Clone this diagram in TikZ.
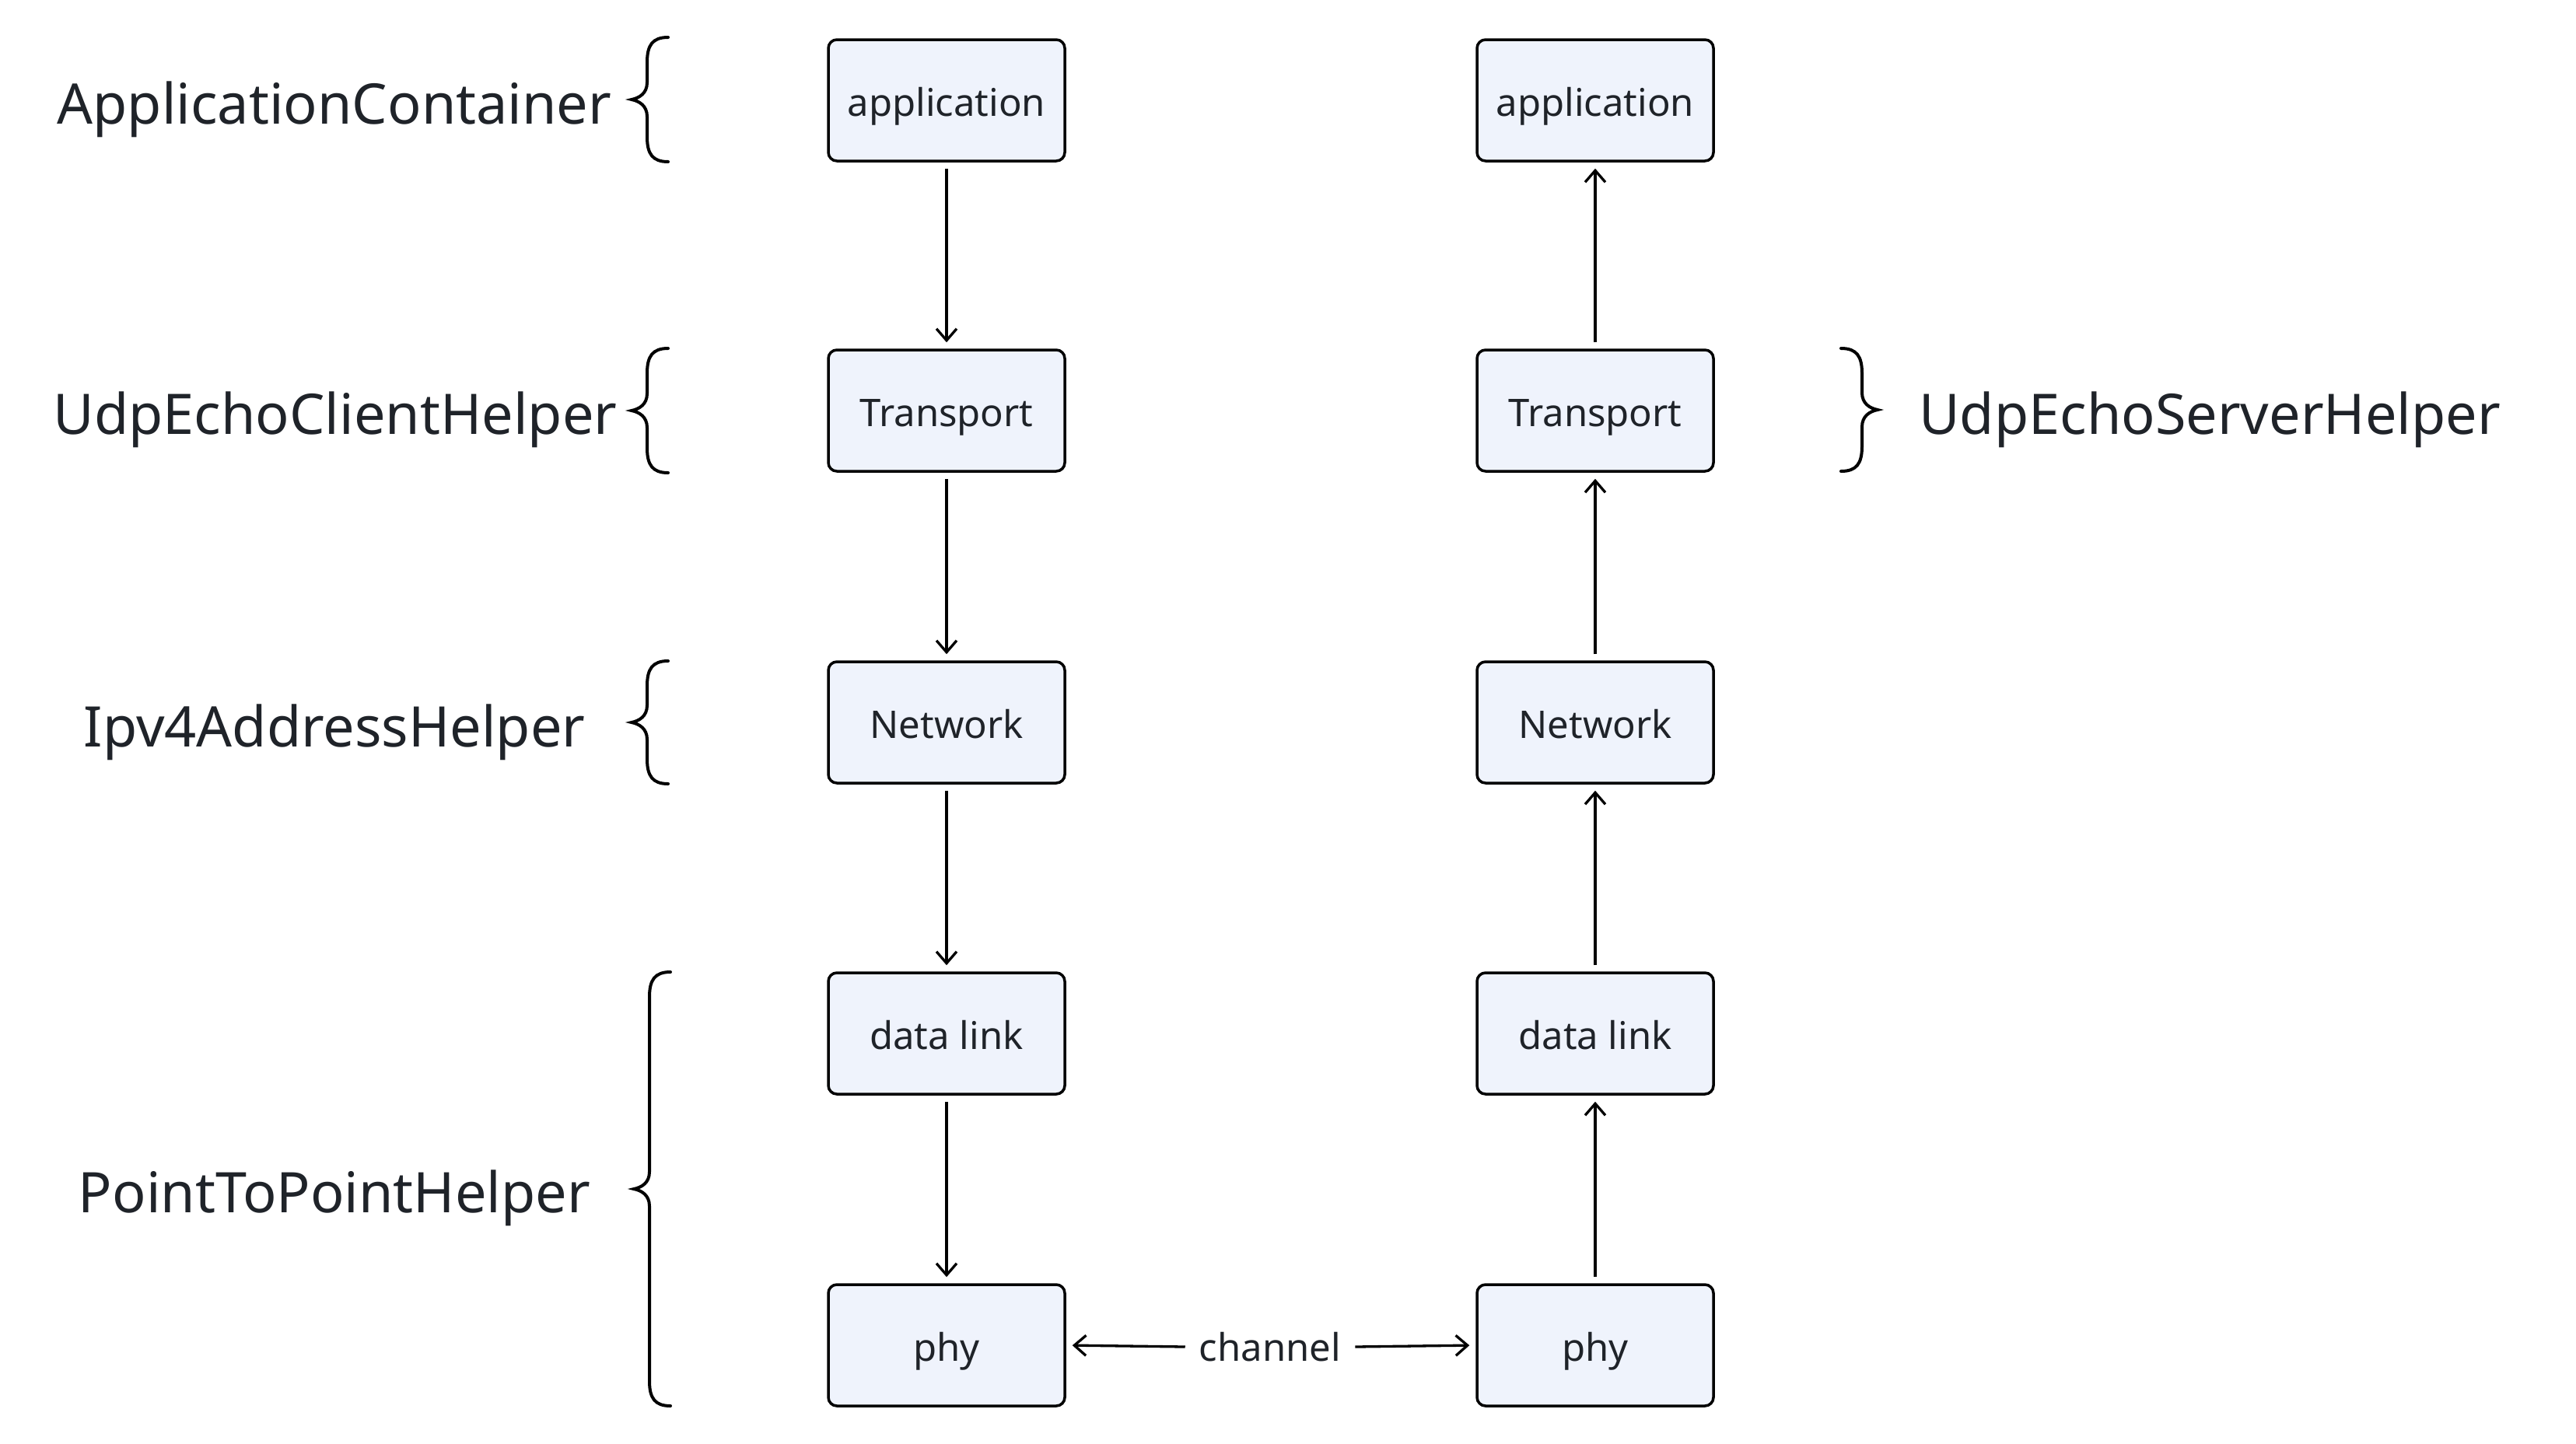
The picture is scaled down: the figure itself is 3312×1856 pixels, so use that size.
\documentclass[tikz,border=0pt]{standalone}
\usepackage{fontspec}
\setmainfont{Noto Sans}
\usetikzlibrary{arrows.meta}
\definecolor{boxfill}{HTML}{EFF3FC}
\definecolor{txt}{HTML}{1F2329}
\newcommand{\LBrace}[3]{% x-tip, top, bottom
  \draw[bracestyle] ({#1+47},-#2) .. controls ({#1+27},-#2) and ({#1+20},{-#2-10}) .. ({#1+20},{-#2-32})
    -- ({#1+20},{-(#2+#3)/2+22}) .. controls ({#1+20},{-(#2+#3)/2+8}) and ({#1+10},{-(#2+#3)/2+2}) .. ({#1},{-(#2+#3)/2})
    .. controls ({#1+10},{-(#2+#3)/2-2}) and ({#1+20},{-(#2+#3)/2-8}) .. ({#1+20},{-(#2+#3)/2-22})
    -- ({#1+20},{-#3+32}) .. controls ({#1+20},{-#3+10}) and ({#1+27},-#3) .. ({#1+47},-#3);}
\newcommand{\RBrace}[3]{% x-tip, top, bottom
  \draw[bracestyle] ({#1-47},-#2) .. controls ({#1-27},-#2) and ({#1-20},{-#2-10}) .. ({#1-20},{-#2-32})
    -- ({#1-20},{-(#2+#3)/2+22}) .. controls ({#1-20},{-(#2+#3)/2+8}) and ({#1-10},{-(#2+#3)/2+2}) .. ({#1},{-(#2+#3)/2})
    .. controls ({#1-10},{-(#2+#3)/2-2}) and ({#1-20},{-(#2+#3)/2-8}) .. ({#1-20},{-(#2+#3)/2-22})
    -- ({#1-20},{-#3+32}) .. controls ({#1-20},{-#3+10}) and ({#1-27},-#3) .. ({#1-47},-#3);}
\begin{document}
\begin{tikzpicture}[x=1pt,y=1pt,
  layer/.style={draw=black, line width=3.5pt, rounded corners=11pt, fill=boxfill,
    minimum width=304pt, minimum height=156pt, inner sep=0pt, text=txt,
    text height=45pt, text depth=4pt,
    font=\fontsize{49}{58}\selectfont},
  biglabel/.style={text=txt, font=\fontsize{72}{86}\selectfont, inner sep=0pt,
    text height=62pt, text depth=10pt},
  conn/.style={line width=3.3pt, -{Straight Barb[length=15pt,width=26pt,line width=3.3pt]},
    shorten >=8pt, shorten <=8pt},
  bracestyle/.style={line width=4pt, line cap=round}
]
\useasboundingbox[fill=white] (0,0) rectangle (3312,-1856);
% left column
\node[layer] (la) at (1217,-129) {application};
\node[layer] (lt) at (1217,-528) {Transport};
\node[layer] (ln) at (1217,-929) {Network};
\node[layer] (ld) at (1217,-1329) {data link};
\node[layer] (lp) at (1217,-1730) {phy};
% right column
\node[layer] (ra) at (2051,-129) {application};
\node[layer] (rt) at (2051,-528) {Transport};
\node[layer] (rn) at (2051,-929) {Network};
\node[layer] (rd) at (2051,-1329) {data link};
\node[layer] (rp) at (2051,-1730) {phy};
% arrows
\draw[conn] (la) -- (lt);
\draw[conn] (lt) -- (ln);
\draw[conn] (ln) -- (ld);
\draw[conn] (ld) -- (lp);
\draw[conn] (rp) -- (rd);
\draw[conn] (rd) -- (rn);
\draw[conn] (rn) -- (rt);
\draw[conn] (rt) -- (ra);
% channel
\node[text=txt, font=\fontsize{49}{58}\selectfont, inner sep=18pt] (ch) at (1633,-1732) {channel};
\draw[line width=3.3pt, -{Straight Barb[length=15pt,width=26pt,line width=3.3pt]}, shorten >=8pt] (ch.west) -- (lp.east);
\draw[line width=3.3pt, -{Straight Barb[length=15pt,width=26pt,line width=3.3pt]}, shorten >=8pt] (ch.east) -- (rp.west);
% labels
\node[biglabel] (l1) at (430,-133) {ApplicationContainer};
\node[biglabel] (l2) at (431,-532) {UdpEchoClientHelper};
\node[biglabel] (l3) at (430,-934) {Ipv4AddressHelper};
\node[biglabel] (l4) at (430,-1533) {PointToPointHelper};
\node[biglabel, anchor=west] (l5) at (2467,-532) {UdpEchoServerHelper};
% braces
\LBrace{812}{48}{208}
\LBrace{812}{448}{608}
\LBrace{812}{850}{1008}
\LBrace{815}{1250}{1808}
\RBrace{2414}{448}{606}
\end{tikzpicture}
\end{document}
